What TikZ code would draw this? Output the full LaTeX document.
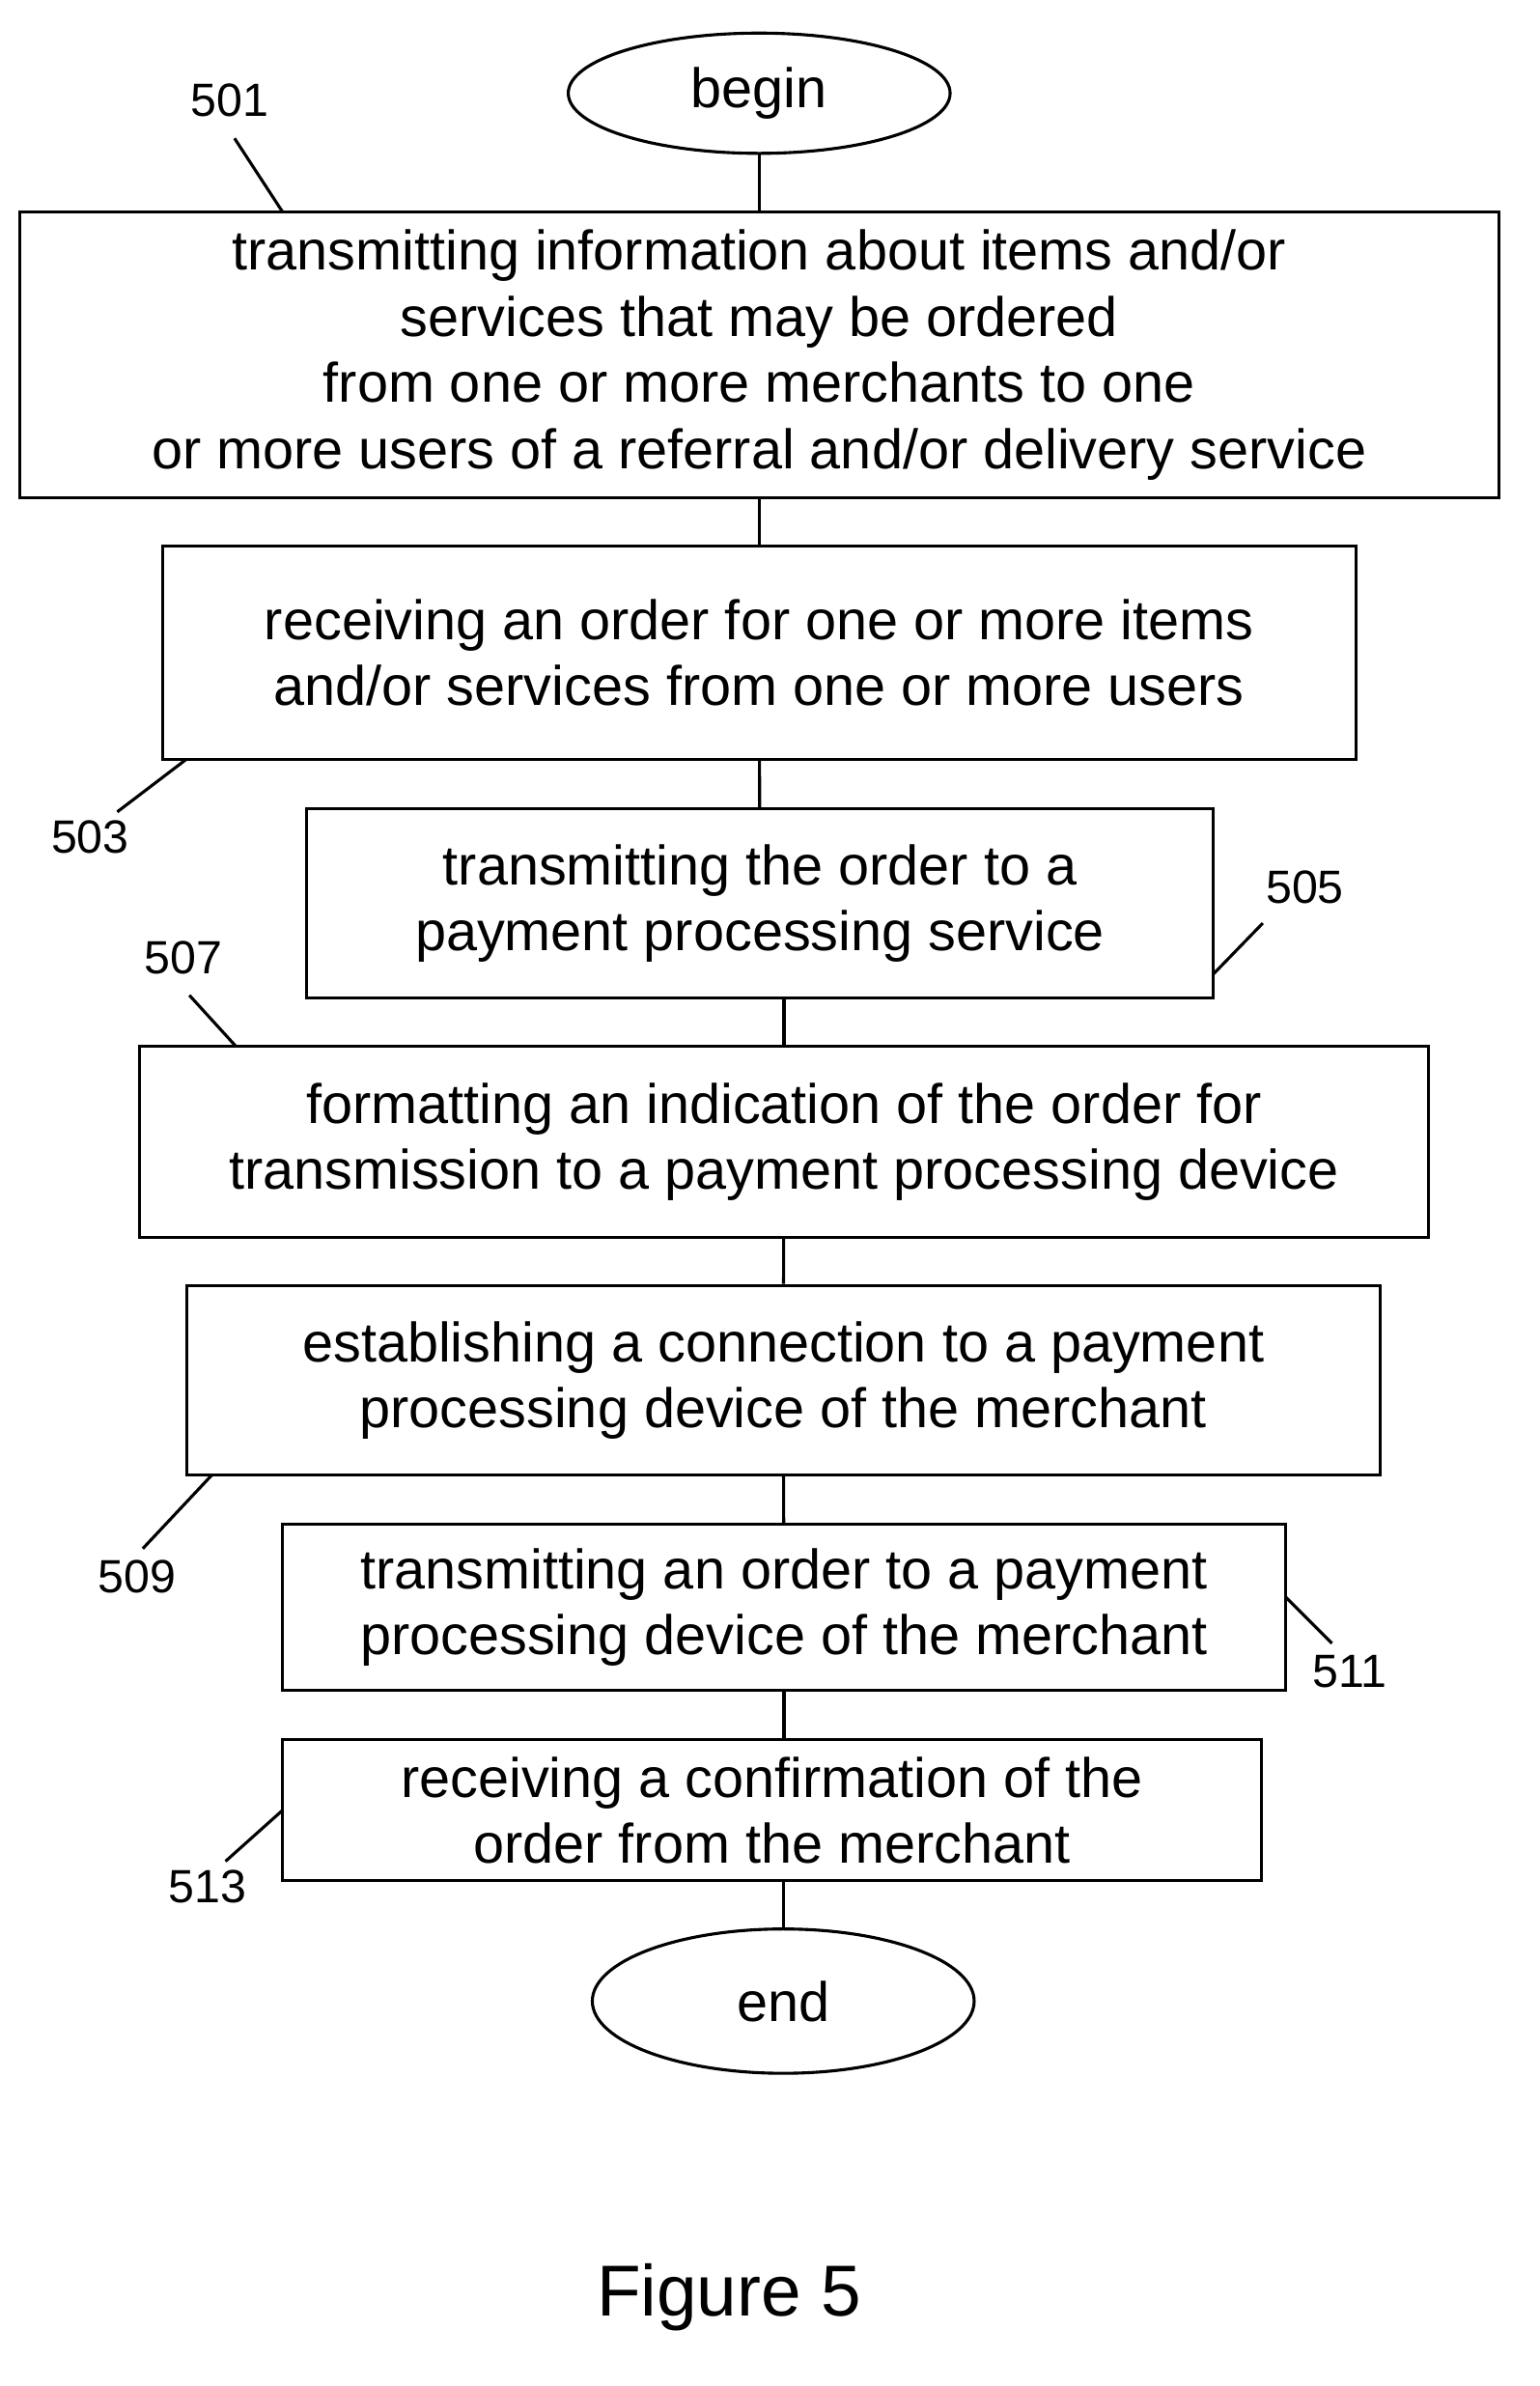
\documentclass[tikz,border=0pt]{standalone}
\usepackage{fontspec}
\setmainfont{Liberation Sans}
\usetikzlibrary{shapes.geometric}
\begin{document}
\begin{tikzpicture}[x=1pt,y=-1pt,line width=2pt,
 box/.style={draw,rectangle,align=center,inner sep=0pt,font=\fontsize{37}{44}\selectfont},
 term/.style={draw,ellipse,inner sep=0pt,font=\fontsize{37}{44}\selectfont},
 lab/.style={font=\fontsize{31}{34}\selectfont}]
\useasboundingbox (0,0) rectangle (1024,1587);
\node[term,minimum width=254,minimum height=80] (begin) at (505,62) {begin};
\node[box,minimum width=984,minimum height=190] (b1) at (505,236) {transmitting information about items and/or\\services that may be ordered\\from one or more merchants to one\\or more users of a referral and/or delivery service};
\node[box,minimum width=794,minimum height=142] (b2) at (505,434) {receiving an order for one or more items\\and/or services from one or more users};
\node[box,minimum width=603,minimum height=126] (b3) at (505.5,601) {transmitting the order to a\\payment processing service};
\node[box,minimum width=857,minimum height=127] (b4) at (521.5,759.5) {formatting an indication of the order for\\transmission to a payment processing device};
\node[box,minimum width=794,minimum height=126] (b5) at (521,918) {establishing a connection to a payment\\processing device of the merchant};
\node[box,minimum width=667,minimum height=110] (b6) at (521.5,1069) {transmitting an order to a payment\\processing device of the merchant};
\node[box,minimum width=651,minimum height=94] (b7) at (513.5,1204) {receiving a confirmation of the\\order from the merchant};
\node[term,minimum width=254,minimum height=96] (end) at (521,1331) {end};
\draw (begin) -- (b1);
\draw (b1) -- (b2);
\draw (b2) -- (b3);
\draw (b4.north |- b3.south) -- (b4.north);
\draw (b4) -- (b5);
\draw (b5) -- (b6);
\draw (b6.south) -- (b6.south |- b7.north);
\draw (end.north |- b7.south) -- (end.north);
\node[lab] (l501) at (153,67) {501};
\node[lab] (l503) at (60,557) {503};
\node[lab] (l505) at (868,590) {505};
\node[lab] (l507) at (122,637) {507};
\node[lab] (l509) at (91,1049) {509};
\node[lab] (l511) at (898,1112) {511};
\node[lab] (l513) at (138,1255) {513};
\coordinate (c501) at (188,141); \draw (156,92) -- (c501);
\coordinate (c503) at (124,505); \draw (78,540) -- (c503);
\coordinate (c505) at (807,648); \draw (840,614) -- (c505);
\coordinate (c507) at (157,696); \draw (126,662) -- (c507);
\coordinate (c509) at (141,981); \draw (95,1030) -- (c509);
\coordinate (c511) at (855,1062); \draw (886,1093) -- (c511);
\coordinate (c513) at (188,1204); \draw (150,1238) -- (c513);
\node[font=\fontsize{48}{54}\selectfont] (fig) at (485,1528) {Figure 5};
\end{tikzpicture}
\end{document}
